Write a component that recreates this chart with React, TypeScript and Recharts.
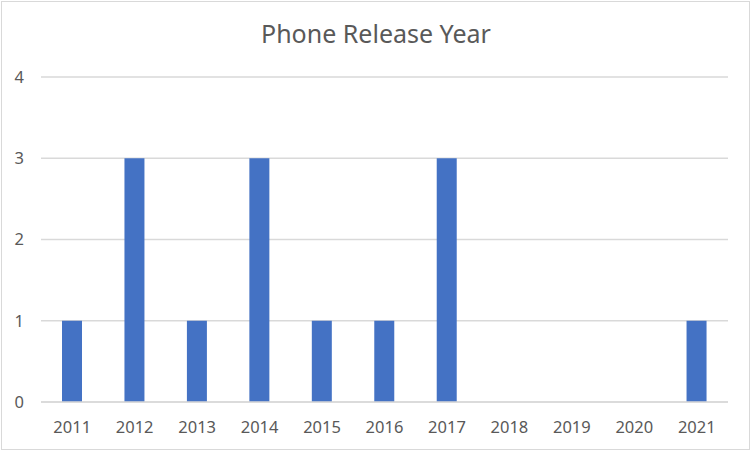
import { BarChart, Bar, XAxis, YAxis, CartesianGrid } from 'recharts'

const years = ['2011', '2012', '2013', '2014', '2015', '2016', '2017', '2018', '2019', '2020', '2021']
const phoneCounts = [1, 3, 1, 3, 1, 1, 3, 0, 0, 0, 1]
const yTicks = [0, 1, 2, 3, 4]

const data = years.map((year, i) => ({ year, count: phoneCounts[i] }))

const FONT = '"Noto Sans", "Open Sans", sans-serif'
const TEXT = '#595959'
const GRID = '#d9d9d9'

export default function App() {
  return (
    <div style={{ position: 'fixed', top: 0, left: 0, width: 752, height: 452, background: '#fff' }}>
      <div
        style={{
          position: 'absolute',
          top: 0,
          left: 0,
          width: 752,
          textAlign: 'center',
          fontFamily: FONT,
          fontSize: 25,
          color: TEXT,
          lineHeight: '25px',
          paddingTop: 21,
        }}
      >
        Phone Release Year
      </div>
      <BarChart
        width={752}
        height={452}
        data={data}
        margin={{ top: 77, right: 24, left: 0, bottom: 20 }}
        barCategoryGap={0}
        style={{ position: 'absolute', top: 0, left: 0 }}
      >
        <CartesianGrid stroke={GRID} strokeWidth={1.3} vertical={false} />
        <XAxis
          dataKey="year"
          height={30}
          axisLine={{ stroke: GRID, strokeWidth: 1.3 }}
          tickLine={false}
          tickSize={0}
          tickMargin={19}
          interval={0}
          tick={{ fontSize: 16.5, fill: TEXT, fontFamily: FONT }}
        />
        <YAxis
          width={41}
          domain={[0, 4]}
          ticks={yTicks}
          axisLine={false}
          tickLine={false}
          tickSize={0}
          tickMargin={17}
          tick={{ fontSize: 16.5, fill: TEXT, fontFamily: FONT }}
        />
        <Bar dataKey="count" fill="#4472C4" barSize={20} isAnimationActive={false} />
      </BarChart>
      <div
        style={{
          position: 'absolute',
          top: 1,
          left: 1,
          width: 749,
          height: 449,
          boxSizing: 'border-box',
          border: `1px solid ${GRID}`,
          pointerEvents: 'none',
        }}
      />
    </div>
  )
}
